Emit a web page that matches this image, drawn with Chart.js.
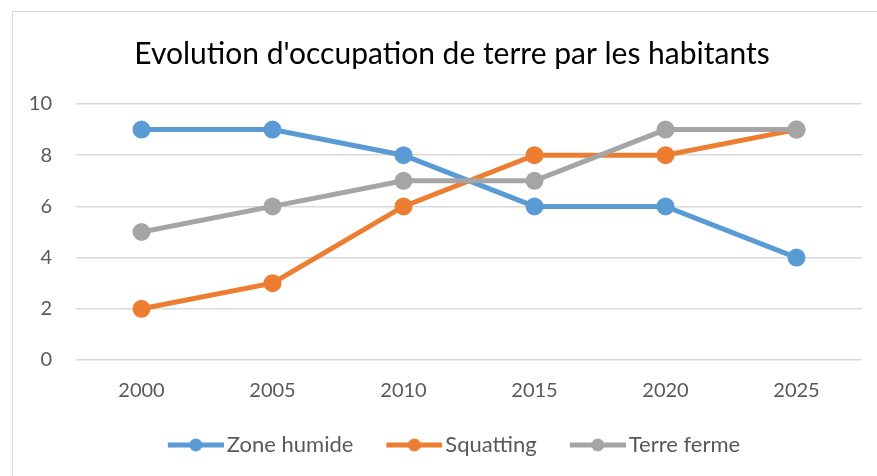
<!DOCTYPE html>
<html lang="fr">
<head>
  <meta charset="UTF-8">
  <title>Evolution d'occupation de terre par les habitants</title>
  <script src="https://cdn.jsdelivr.net/npm/chart.js"></script>
  <style>
    body {
      margin: 0;
      padding: 0;
      background: #fff;
      width: 877px;
      height: 476px;
      overflow: hidden;
      position: relative;
    }
    /* chart frame, cut off at right and bottom like the screenshot */
    .frame {
      position: absolute;
      left: 12px;
      top: 11px;
      width: 900px;
      height: 500px;
      border: 1px solid #d9d9d9;
      box-sizing: border-box;
    }
    .chart-box {
      position: absolute;
      left: 0;
      top: 0;
      width: 877px;
      height: 476px;
    }
  </style>
</head>
<body>
  <div class="frame"></div>
  <div class="chart-box">
    <canvas id="landChart"></canvas>
  </div>

  <script>
    // Data
    const years = ['2000', '2005', '2010', '2015', '2020', '2025'];
    const zoneHumide = [9, 9, 8, 6, 6, 4];
    const squatting = [2, 3, 6, 8, 8, 9];
    const terreFerme = [5, 6, 7, 7, 9, 9];
    const yTicks = [0, 2, 4, 6, 8, 10];

    const FONT = 'Lato, "Open Sans", sans-serif';
    const TEXT = '#595959';

    // legend marker: line with a dot in the middle (Excel style).
    // The image is wider than the legend box, so it overhangs 8px each side:
    // the line ends right before the text, empty room on the left spaces items.
    const MARK_W = 87;
    function legendMarker(color) {
      const c = document.createElement('canvas');
      c.width = MARK_W;
      c.height = 16;
      const g = c.getContext('2d');
      g.strokeStyle = color;
      g.lineWidth = 5;
      g.beginPath();
      g.moveTo(31, 8);
      g.lineTo(87, 8);
      g.stroke();
      g.fillStyle = color;
      g.beginPath();
      g.arc(59, 8, 6.5, 0, Math.PI * 2);
      g.fill();
      return c;
    }

    // the Excel frame centres title and legend a bit off the plot area
    const shiftBlocks = {
      id: 'shiftBlocks',
      afterLayout(chart) {
        if (chart.titleBlock) {
          chart.titleBlock.left = 42;
          chart.titleBlock.right = 862;
        }
        if (chart.legend) {
          chart.legend.left += 11.5;
          chart.legend.right += 11.5;
        }
      }
    };

    const series = [
      { label: 'Zone humide', data: zoneHumide, color: '#5B9BD5', order: 3 },
      { label: 'Squatting', data: squatting, color: '#ED7D31', order: 2 },
      { label: 'Terre ferme', data: terreFerme, color: '#A5A5A5', order: 1 }
    ];

    const ctx = document.getElementById('landChart').getContext('2d');
    new Chart(ctx, {
      type: 'line',
      data: {
        labels: years,
        datasets: series.map(s => ({
          label: s.label,
          data: s.data,
          borderColor: s.color,
          backgroundColor: s.color,
          pointBackgroundColor: s.color,
          pointBorderColor: s.color,
          borderWidth: 5,
          pointRadius: 6.5,
          pointHoverRadius: 6.5,
          tension: 0,
          order: s.order,
          pointStyle: 'circle',
          marker: legendMarker(s.color)
        }))
      },
      plugins: [shiftBlocks],
      options: {
        responsive: true,
        maintainAspectRatio: false,
        animation: false,
        layout: { padding: { left: 0, right: 15, top: 0, bottom: 10 } },
        plugins: {
          title: {
            display: true,
            text: "Evolution d'occupation de terre par les habitants",
            color: '#000',
            font: { family: FONT, size: 30, weight: 'normal' },
            padding: { top: 36, bottom: 32 }
          },
          legend: {
            position: 'bottom',
            labels: {
              color: TEXT,
              font: { family: FONT, size: 22 },
              usePointStyle: true,
              pointStyleWidth: MARK_W - 16,
              padding: 10,
              generateLabels(chart) {
                return chart.data.datasets.map((ds, i) => ({
                  text: ds.label,
                  fontColor: TEXT,
                  pointStyle: ds.marker,
                  datasetIndex: i,
                  hidden: false,
                  lineWidth: 0,
                  strokeStyle: ds.borderColor,
                  fillStyle: ds.borderColor
                }));
              }
            }
          },
          tooltip: { enabled: false }
        },
        scales: {
          x: {
            offset: true,
            grid: { display: false, drawTicks: false },
            border: { display: false },
            ticks: {
              color: TEXT,
              font: { family: FONT, size: 20 },
              padding: 19,
              maxRotation: 0
            },
            afterFit(scale) { scale.height = 64; }
          },
          y: {
            min: 0,
            max: 10,
            afterBuildTicks(scale) {
              scale.ticks = yTicks.map(v => ({ value: v }));
            },
            grid: { color: '#d9d9d9', lineWidth: 1.5, drawTicks: false },
            border: { display: false },
            ticks: {
              color: TEXT,
              font: { family: FONT, size: 20 },
              padding: 24
            },
            afterFit(scale) { scale.width = 76; }
          }
        }
      }
    });
  </script>
</body>
</html>
